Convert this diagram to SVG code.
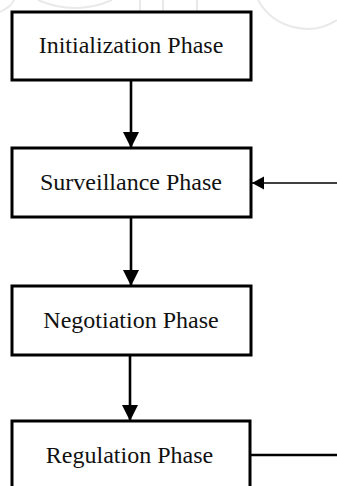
<svg xmlns="http://www.w3.org/2000/svg" width="337" height="486" viewBox="0 0 337 486">
  <style>
    .box { fill: #ffffff; stroke: #000000; stroke-width: 3; }
    .lbl { font-family: "Liberation Serif", "Times New Roman", serif; font-size: 24px; fill: #111111; text-anchor: middle; }
    .conn { stroke: #000000; stroke-width: 2.6; fill: none; }
    .thin { stroke: #000000; stroke-width: 1.6; fill: none; }
    .wm { stroke: #e9e9e9; stroke-width: 2; fill: none; }
  </style>
  <defs>
    <marker id="arrowDown" markerUnits="userSpaceOnUse" markerWidth="18" markerHeight="18" refX="16" refY="8" orient="auto" viewBox="0 0 18 18">
      <path d="M0,0 L16,8 L0,16 z" fill="#000000"/>
    </marker>
    <marker id="arrowSmall" markerUnits="userSpaceOnUse" markerWidth="14" markerHeight="14" refX="12" refY="6.5" orient="auto" viewBox="0 0 14 14">
      <path d="M0,0 L12,6.5 L0,13 z" fill="#000000"/>
    </marker>
  </defs>
  <rect x="0" y="0" width="337" height="486" fill="#ffffff"/>
  <g id="watermark">
    <path class="wm" d="M0,12 Q12,6 14,0"/>
    <path class="wm" d="M38,0 Q75,16 112,0"/>
    <path class="wm" d="M140,0 L140,20"/>
    <path class="wm" d="M163,0 L163,20"/>
    <path class="wm" d="M197,0 L197,22"/>
    <path class="wm" d="M258,0 A56,56 0 0 0 337,20"/>
  </g>
  <g id="connectors">
    <line class="conn" x1="131" y1="80" x2="131" y2="148" marker-end="url(#arrowDown)"/>
    <line class="conn" x1="131" y1="217" x2="131" y2="286" marker-end="url(#arrowDown)"/>
    <line class="conn" x1="130" y1="355" x2="130" y2="421" marker-end="url(#arrowDown)"/>
    <line class="thin" x1="337" y1="183" x2="252" y2="183" marker-end="url(#arrowSmall)"/>
    <line class="conn" x1="250" y1="455" x2="337" y2="455"/>
  </g>
  <g id="initialization">
    <rect class="box" x="12" y="12" width="239" height="68"/>
    <text class="lbl" x="131" y="53">Initialization Phase</text>
  </g>
  <g id="surveillance">
    <rect class="box" x="12" y="148" width="239" height="69"/>
    <text class="lbl" x="131" y="190">Surveillance Phase</text>
  </g>
  <g id="negotiation">
    <rect class="box" x="12" y="286" width="239" height="69"/>
    <text class="lbl" x="131" y="328">Negotiation Phase</text>
  </g>
  <g id="regulation">
    <rect class="box" x="12" y="421" width="238" height="69"/>
    <text class="lbl" x="129.5" y="463">Regulation Phase</text>
  </g>
</svg>
